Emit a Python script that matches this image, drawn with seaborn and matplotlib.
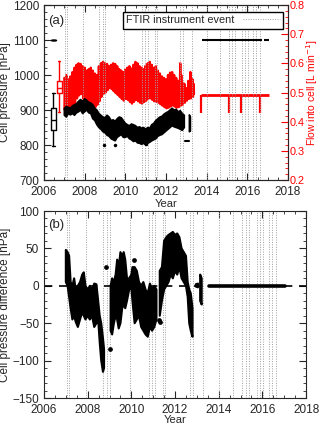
import numpy as np
import matplotlib
matplotlib.use("Agg")
import matplotlib.pyplot as plt
from matplotlib.lines import Line2D
from matplotlib.ticker import MultipleLocator
import seaborn as sns

sns.set_style("ticks")
plt.rcParams['font.family'] = ['Liberation Sans', 'DejaVu Sans']

# ---- instrument events (years) ----
event_years = [2007.05, 2007.15, 2007.92, 2008.72, 2008.88, 2009.0, 2009.92,
               2010.82, 2010.95, 2011.1, 2011.45, 2011.55, 2012.68, 2012.82,
               2013.27, 2014.0, 2014.66, 2015.08, 2015.23, 2015.4, 2015.75,
               2015.9, 2016.05, 2016.28, 2016.45, 2016.6]

# ---- panel (a): flow into cell, 2007-2013 (L/min) ----
flow_t = [2007.0, 2007.1, 2007.2, 2007.3, 2007.4, 2007.5, 2007.6, 2007.7, 2007.8, 2007.9,
          2008.0, 2008.1, 2008.2, 2008.3, 2008.4, 2008.5, 2008.6, 2008.7, 2008.8, 2008.9,
          2009.0, 2009.1, 2009.2, 2009.3, 2009.4, 2009.5, 2009.6, 2009.7, 2009.8, 2009.9,
          2010.0, 2010.1, 2010.2, 2010.3, 2010.4, 2010.5, 2010.6, 2010.7, 2010.8, 2010.9,
          2011.0, 2011.1, 2011.2, 2011.3, 2011.4, 2011.5, 2011.6, 2011.7, 2011.8, 2011.9,
          2012.0, 2012.1, 2012.2, 2012.3, 2012.4, 2012.5, 2012.6, 2012.7, 2012.8, 2012.9,
          2013.0, 2013.1, 2013.2, 2013.3]
flow_hi = [0.550, 0.560, 0.545, 0.555, 0.570, 0.585, 0.595, 0.600, 0.598, 0.590,
           0.585, 0.575, 0.580, 0.585, 0.575, 0.565, 0.560, 0.590, 0.600, 0.605,
           0.600, 0.598, 0.590, 0.595, 0.600, 0.598, 0.590, 0.580, 0.575, 0.570,
           0.578, 0.585, 0.590, 0.582, 0.595, 0.605, 0.600, 0.590, 0.585, 0.580,
           0.592, 0.600, 0.605, 0.595, 0.585, 0.590, 0.575, 0.565, 0.555, 0.550,
           0.545, 0.560, 0.568, 0.570, 0.560, 0.550, 0.540, 0.600, 0.535, 0.530,
           0.515, 0.540, 0.570, 0.545]
flow_lo = [0.440, 0.435, 0.445, 0.450, 0.455, 0.462, 0.480, 0.490, 0.495, 0.480,
           0.470, 0.462, 0.455, 0.450, 0.446, 0.450, 0.458, 0.470, 0.485, 0.495,
           0.500, 0.508, 0.515, 0.512, 0.505, 0.498, 0.492, 0.485, 0.478, 0.472,
           0.478, 0.475, 0.468, 0.462, 0.468, 0.475, 0.470, 0.465, 0.462, 0.468,
           0.472, 0.478, 0.480, 0.475, 0.470, 0.468, 0.465, 0.460, 0.455, 0.450,
           0.446, 0.448, 0.452, 0.456, 0.452, 0.448, 0.450, 0.455, 0.458, 0.465,
           0.472, 0.478, 0.480, 0.485]
# intermediate readings between the main strokes
flow_mid_hi = [0.520, 0.530, 0.525, 0.540, 0.550, 0.560, 0.575, 0.580, 0.570, 0.560,
               0.555, 0.550, 0.560, 0.560, 0.545, 0.540, 0.545, 0.570, 0.580, 0.585,
               0.575, 0.570, 0.565, 0.575, 0.580, 0.570, 0.560, 0.555, 0.550, 0.545,
               0.555, 0.560, 0.565, 0.560, 0.575, 0.580, 0.570, 0.565, 0.560, 0.560,
               0.570, 0.580, 0.580, 0.570, 0.560, 0.565, 0.550, 0.540, 0.535, 0.530,
               0.525, 0.540, 0.545, 0.548, 0.540, 0.530, 0.520, 0.560, 0.520, 0.515,
               0.505, 0.525, 0.550, 0.530]
flow_mid_lo = [0.460, 0.455, 0.465, 0.470, 0.475, 0.485, 0.500, 0.505, 0.510, 0.500,
               0.490, 0.485, 0.478, 0.470, 0.465, 0.470, 0.478, 0.490, 0.505, 0.512,
               0.518, 0.525, 0.530, 0.528, 0.522, 0.515, 0.510, 0.505, 0.498, 0.490,
               0.495, 0.495, 0.488, 0.482, 0.488, 0.495, 0.490, 0.485, 0.482, 0.488,
               0.492, 0.498, 0.500, 0.495, 0.490, 0.488, 0.485, 0.478, 0.472, 0.468,
               0.465, 0.468, 0.470, 0.474, 0.470, 0.466, 0.468, 0.472, 0.475, 0.480,
               0.485, 0.490, 0.492, 0.495]

# flow after 2013 (regulated)
flow2_t = [2013.70, 2016.64]
flow2_end = [2016.62, 2017.07]
flow2_val = 0.49
flow_dip_t = [2013.70, 2015.10, 2015.70, 2016.62]
flow_dip_lo = [0.430, 0.430, 0.430, 0.430]

# ---- panel (a): cell pressure, 2007-2013 (hPa) ----
pres_t = [2007.0, 2007.1, 2007.2, 2007.3, 2007.4, 2007.5, 2007.6, 2007.7, 2007.8, 2007.9,
          2008.0, 2008.1, 2008.2, 2008.3, 2008.4, 2008.5, 2008.6, 2008.7, 2008.8, 2008.9,
          2009.0, 2009.1, 2009.2, 2009.3, 2009.4, 2009.5, 2009.6, 2009.7, 2009.8, 2009.9,
          2010.0, 2010.1, 2010.2, 2010.3, 2010.4, 2010.5, 2010.6, 2010.7, 2010.8, 2010.9,
          2011.0, 2011.1, 2011.2, 2011.3, 2011.4, 2011.5, 2011.6, 2011.7, 2011.8, 2011.9,
          2012.0, 2012.1, 2012.2, 2012.3, 2012.4, 2012.5, 2012.6, 2012.7, 2012.8, 2012.9,
          2013.0, 2013.1, 2013.15, 2013.2]
pres_lo = [885, 880, 890, 886, 890, 885, 892, 895, 900, 890,
           895, 900, 892, 890, 875, 870, 858, 850, 845, 838,
           835, 828, 825, 818, 815, 812, 822, 826, 830, 822,
           822, 825, 818, 815, 810, 812, 806, 805, 802, 805,
           800, 805, 808, 812, 815, 818, 825, 828, 830, 835,
           840, 845, 850, 855, 852, 850, 848, 845, 842, 850,
           np.nan, np.nan, 838, 840]
pres_hi = [905, 910, 908, 905, 912, 915, 918, 925, 930, 925,
           932, 928, 922, 920, 915, 905, 900, 890, 885, 880,
           878, 885, 880, 870, 872, 868, 875, 880, 878, 870,
           862, 858, 855, 860, 858, 855, 850, 852, 848, 850,
           845, 850, 848, 858, 862, 870, 875, 880, 882, 888,
           892, 895, 900, 905, 900, 902, 895, 898, 890, 885,
           np.nan, np.nan, 886, 880]
pres_dot_t = [2008.95, 2009.5, 2011.0]
pres_dot_v = [800, 800, 802]
pres_dash_t = [2012.95, 2013.15]
pres_dash_v = 811
pres2_t = [2013.75, 2016.80]
pres2_end = [2016.72, 2017.05]
pres2_val = 1100

# box summaries drawn left of the series
box_pres = dict(med=871, q1=843, q3=905, whislo=798, whishi=948, fliers=[])
box_pres2 = dict(med=1100, q1=1100, q3=1100, whislo=1100, whishi=1100, fliers=[])
box_flow = dict(med=0.514, q1=0.497, q3=0.540, whislo=0.434, whishi=0.609, fliers=[])

# ---- panel (b): cell pressure difference (hPa) ----
diff_t = [2007.00, 2007.08, 2007.15, 2007.22, 2007.30, 2007.38, 2007.45, 2007.55, 2007.65, 2007.75,
          2007.82, 2007.90, 2008.00, 2008.10, 2008.20, 2008.30, 2008.40, 2008.48, 2008.55, 2008.62,
          2008.70, 2008.75, 2008.80, 2009.02, 2009.05, 2009.12, 2009.20, 2009.28, 2009.35, 2009.42,
          2009.50, 2009.58, 2009.65, 2009.72, 2009.80, 2009.90, 2010.00, 2010.05, 2010.15, 2010.25,
          2010.35, 2010.45, 2010.55, 2010.65, 2010.75, 2010.85, 2010.95, 2011.05, 2011.15, 2011.22,
          2011.30, 2011.40, 2011.50, 2011.60, 2011.70, 2011.80, 2011.90, 2012.00, 2012.10, 2012.20,
          2012.30, 2012.40, 2012.50, 2012.58, 2012.65, 2012.72, 2012.80, 2012.86, 2012.95, 2013.05,
          2013.10, 2013.15, 2013.22]
diff_lo = [5, 0, -15, -30, -45, -40, -48, -55, -45, -35,
           -40, -45, -40, -45, -40, -55, -50, -45, -75, -100,
           -115, -110, np.nan, np.nan, -60, -65, -50, -40, -45, -57,
           -50, -30, -25, -30, -20, -5, -3, -20, -50, -45,
           -40, -55, -60, -65, -68, -55, -60, -55, -45, np.nan,
           -40, -20, -5, 0, 5, 15, 10, 20, 15, 25,
           10, 5, 0, -15, -50, -60, -68, np.nan, -1, -2,
           np.nan, -20, -25]
diff_hi = [48, 45, 40, 5, 0, 10, -5, 0, 5, 15,
           18, 0, -5, 0, -5, 3, 2, -20, -40, -50,
           -70, -85, np.nan, np.nan, 0, 10, 5, 15, 35, 25,
           45, 40, 45, 35, 10, 10, 15, 25, 25, 20,
           5, 0, 5, -5, -10, 3, -5, 0, -5, np.nan,
           20, 25, 60, 65, 68, 70, 72, 68, 70, 65,
           50, 45, 40, 5, -5, -10, -30, np.nan, 2, 3,
           np.nan, 15, 10]
diff_dot_t = [2008.85, 2009.0, 2010.1, 2011.26, 2011.3]
diff_dot_v = [25, -84, 35, -46, -48]
diff2_t = [2013.55, 2017.05]
diff2_val = 0.0

ev_kw = dict(color='#a0a0a0', lw=0.7, ls=(0, (1, 1.5)), zorder=1)
FS = 8.5

fig = plt.figure(figsize=(3.2, 4.28), dpi=100)
axa = fig.add_axes([0.1375, 0.5794, 0.7625, 0.4089])
axf = axa.twinx()
axb = fig.add_axes([0.1375, 0.070, 0.819, 0.437])

# ---------------- panel (a) ----------------
for x in event_years:
    axa.axvline(x, **ev_kw)

# flow as zig-zag of daily ranges
zz_x, zz_y = [], []
for t, h, l, mh, ml in zip(flow_t, flow_hi, flow_lo, flow_mid_hi, flow_mid_lo):
    zz_x += [t, t + 0.025, t + 0.05, t + 0.075]
    zz_y += [h, l, mh, ml]
sns.lineplot(x=zz_x, y=zz_y, ax=axf, color='red', lw=1.7, sort=False,
             estimator=None, zorder=3)
axf.hlines([flow2_val] * len(flow2_t), flow2_t, flow2_end, color='red', lw=2.0, zorder=3)
axf.vlines(flow_dip_t, flow_dip_lo, flow2_val, color='red', lw=1.6, zorder=3)
axf.bxp([box_flow], positions=[2006.74], widths=0.25, manage_ticks=False,
        boxprops=dict(color='red', lw=1), whiskerprops=dict(color='red', lw=1),
        capprops=dict(color='red', lw=1), medianprops=dict(color='red', lw=1))

axa.fill_between(pres_t, pres_lo, pres_hi, color='black', lw=1.2, zorder=4)
axa.plot(pres_dot_t, pres_dot_v, 'o', color='black', ms=1.5, zorder=4)
axa.plot(pres_dash_t, [pres_dash_v] * 2, color='black', lw=1.5, zorder=4)
axa.hlines([pres2_val] * len(pres2_t), pres2_t, pres2_end, color='black', lw=1.5, zorder=4)
axa.bxp([box_pres, box_pres2], positions=[2006.46, 2006.46], widths=0.25, manage_ticks=False,
        boxprops=dict(color='black', lw=1), whiskerprops=dict(color='black', lw=1),
        capprops=dict(color='black', lw=1), medianprops=dict(color='black', lw=1))

axa.set_zorder(axf.get_zorder() + 1)
axa.patch.set_visible(False)

axa.set_xlim(2006, 2018)
axa.set_ylim(700, 1200)
axf.set_ylim(0.2, 0.8)
axa.xaxis.set_major_locator(MultipleLocator(2))
axa.xaxis.set_minor_locator(MultipleLocator(0.5))
axa.yaxis.set_major_locator(MultipleLocator(100))
axa.yaxis.set_minor_locator(MultipleLocator(20))
axf.yaxis.set_major_locator(MultipleLocator(0.1))
axf.yaxis.set_minor_locator(MultipleLocator(0.02))
axa.tick_params(which='both', direction='in', top=True, right=False, labelsize=FS)
axa.tick_params(which='major', length=5, width=0.8)
axa.tick_params(which='minor', length=2.5, width=0.6)
axa.tick_params(axis='x', which='major', pad=4)
axf.tick_params(which='both', direction='in', colors='red', labelsize=7.8)
axf.tick_params(which='major', length=5, width=0.8, pad=1)
axf.tick_params(which='minor', length=2.5, width=0.6)
for ax in (axa, axf):
    for s in ax.spines.values():
        s.set_linewidth(0.8)
axf.spines['right'].set_color('red')

axa.set_ylabel('Cell pressure [hPa]', fontsize=FS)
axa.yaxis.set_label_coords(-0.135, 0.5)
axf.set_ylabel('Flow into cell [L min$^{-1}$]', fontsize=7.5, color='red')
axf.yaxis.set_label_coords(1.065, 0.5)
axa.set_xlabel('Year', fontsize=8)
axa.xaxis.set_label_coords(0.5, -0.11)
axa.text(0.015, 0.91, '(a)', transform=axa.transAxes, fontsize=9.5, va='center')

leg_handle = Line2D([], [], **{k: v for k, v in ev_kw.items() if k != 'zorder'})
leg = axa.legend([leg_handle], ['FTIR instrument event'], loc='upper right',
                 bbox_to_anchor=(0.98, 0.96), borderaxespad=0, fontsize=7.8,
                 markerfirst=False, handlelength=3.4, fancybox=False, framealpha=1,
                 edgecolor='black', borderpad=0.3, handletextpad=0.8)
leg.get_frame().set_linewidth(1.0)

# ---------------- panel (b) ----------------
for x in event_years:
    axb.axvline(x, **ev_kw)
axb.axhline(0, color='black', lw=1.2, ls=(0, (5, 4)), zorder=2)
axb.fill_between(diff_t, diff_lo, diff_hi, color='black', lw=1.5, zorder=4)
axb.plot(diff_dot_t, diff_dot_v, 'o', color='black', ms=2.4, zorder=4)
axb.plot(diff2_t, [diff2_val] * 2, color='black', lw=2.6, zorder=4)

axb.set_xlim(2006, 2018)
axb.set_ylim(-150, 100)
axb.xaxis.set_major_locator(MultipleLocator(2))
axb.xaxis.set_minor_locator(MultipleLocator(0.5))
axb.yaxis.set_major_locator(MultipleLocator(50))
axb.yaxis.set_minor_locator(MultipleLocator(10))
axb.tick_params(which='both', direction='in', top=True, right=True, labelsize=FS)
axb.tick_params(which='major', length=5, width=0.8)
axb.tick_params(which='minor', length=2.5, width=0.6)
axb.tick_params(axis='x', which='major', pad=4)
for s in axb.spines.values():
    s.set_linewidth(0.8)
axb.set_ylabel('Cell pressure difference [hPa]', fontsize=FS)
axb.yaxis.set_label_coords(-0.125, 0.5)
axb.set_xlabel('Year', fontsize=8)
axb.xaxis.set_label_coords(0.5, -0.09)
axb.text(0.015, 0.925, '(b)', transform=axb.transAxes, fontsize=9.5, va='center')

fig.savefig('out.png', dpi=100)
